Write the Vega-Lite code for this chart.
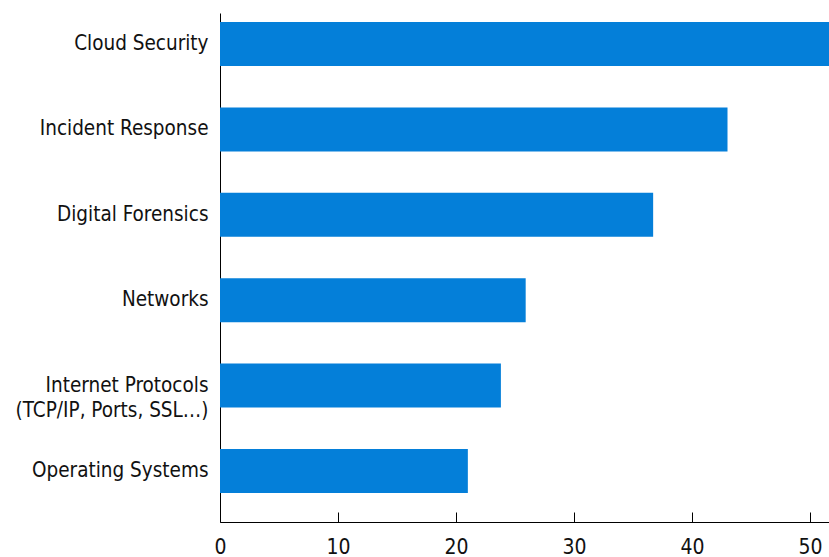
{
  "$schema": "https://vega.github.io/schema/vega-lite/v6.json",
  "autosize": {"type": "none"},
  "padding": {"left": 220, "top": 13, "right": 0, "bottom": 35},
  "width": 609,
  "height": 509,
  "background": "white",
  "config": {
    "view": {"stroke": null},
    "font": "DejaVu Sans Condensed"
  },
  "data": {
    "values": [
      {"topic": "Cloud Security", "value": 52},
      {"topic": "Incident Response", "value": 43},
      {"topic": "Digital Forensics", "value": 36.7},
      {"topic": "Networks", "value": 25.9},
      {"topic": "Internet Protocols (TCP/IP, Ports, SSL…)", "value": 23.8},
      {"topic": "Operating Systems", "value": 21}
    ]
  },
  "mark": {"type": "bar", "color": "#047FD9", "clip": true},
  "encoding": {
    "y": {
      "field": "topic",
      "type": "nominal",
      "sort": null,
      "scale": {"paddingInner": 0.485, "paddingOuter": 0.2225, "align": 0.237},
      "axis": {
        "title": null,
        "ticks": false,
        "domainColor": "black",
        "domainWidth": 1,
        "labelFont": "DejaVu Sans Condensed",
        "labelFontSize": 20.5,
        "labelColor": "#111111",
        "labelPadding": 12,
        "labelLimit": 300,
        "labelLineHeight": 25,
        "labelExpr": "datum.label == 'Internet Protocols (TCP/IP, Ports, SSL…)' ? ['Internet Protocols', '(TCP/IP, Ports, SSL…)'] : datum.label"
      }
    },
    "x": {
      "field": "value",
      "type": "quantitative",
      "scale": {"domain": [0, 51.6], "nice": false},
      "axis": {
        "title": null,
        "grid": false,
        "values": [0, 10, 20, 30, 40, 50],
        "tickSize": -10,
        "tickColor": "black",
        "domainColor": "black",
        "labelFont": "DejaVu Sans Condensed",
        "labelFontSize": 21,
        "labelColor": "#111111",
        "labelPadding": 24,
        "labelFlush": false,
        "labelBaseline": "top"
      }
    }
  }
}
